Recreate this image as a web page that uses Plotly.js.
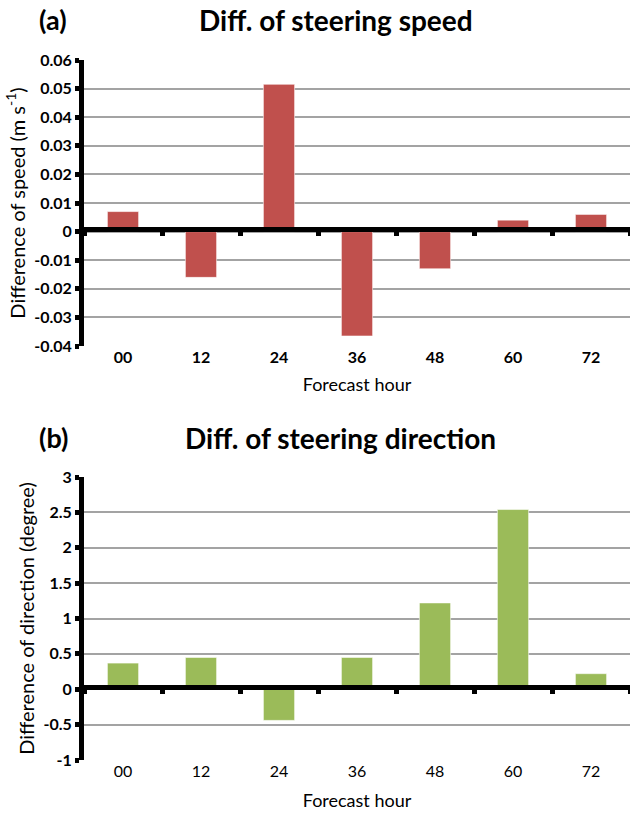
<!DOCTYPE html>
<html>
<head>
<meta charset="utf-8">
<script src="https://cdn.plot.ly/plotly-3.0.1.min.js"></script>
<style>html,body{margin:0;padding:0;background:#fff;}#chart{width:630px;height:814px;}</style>
</head>
<body>
<div id="chart"></div>
<script>
var hours = ["00", "12", "24", "36", "48", "60", "72"];
var speedDiff = [0.007, -0.016, 0.0515, -0.0365, -0.013, 0.004, 0.006];
var directionDiff = [0.37, 0.45, -0.44, 0.45, 1.22, 2.54, 0.22];
var speedTicks = [0.06, 0.05, 0.04, 0.03, 0.02, 0.01, 0, -0.01, -0.02, -0.03, -0.04];
var speedTickText = ["0.06", "0.05", "0.04", "0.03", "0.02", "0.01", "0", "-0.01", "-0.02", "-0.03", "-0.04"];
var dirTicks = [3, 2.5, 2, 1.5, 1, 0.5, 0, -0.5, -1];
var dirTickText = ["3", "2.5", "2", "1.5", "1", "0.5", "0", "-0.5", "-1"];

var FONT = "Lato, 'Open Sans', sans-serif";
var W = 630, H = 814;
var LW = 5;
var xDom = [84 / W, 1];
var yDomA = [1 - 346 / H, 1 - 60 / H];
var yDomB = [1 - 760 / H, 1 - 477 / H];
var rangeA = [-0.04, 0.06];
var rangeB = [-1, 3];
// paper position of the zero value, corrected so the thick line is centred on it
function zeroPos(dom, r) { return dom[0] + (0 - r[0]) / (r[1] - r[0]) * (dom[1] - dom[0]) + (LW / 2) / H; }

function barTrace(y, color, xa, ya, visibleBars) {
  return { type: "bar", x: hours, y: y, xaxis: xa, yaxis: ya,
    marker: { color: color, line: { color: "rgba(255,255,255,0.55)", width: 1 } },
    opacity: visibleBars ? 1 : 0, width: 0.4, hoverinfo: visibleBars ? "x+y" : "skip" };
}
var traces = [
  barTrace(speedDiff, "#C0504D", "x", "y", true),
  barTrace(directionDiff, "#9BBB59", "x2", "y2", true),
  // transparent copies that carry the category axis drawn along the zero line
  barTrace(speedDiff, "#C0504D", "x3", "y", false),
  barTrace(directionDiff, "#9BBB59", "x4", "y2", false)
];

function merge(a, b) { var o = {}; for (var k in a) o[k] = a[k]; for (var k2 in b) o[k2] = b[k2]; return o; }
var yCommon = {
  showline: true, linecolor: "#000", linewidth: LW, ticks: "outside", ticklen: 4, tickwidth: 5, tickcolor: "#000",
  showgrid: true, gridcolor: "#a3a3a3", gridwidth: 2, zeroline: false,
  tickfont: { family: FONT, size: 16, color: "#000", weight: "bold" }
};
var xLabels = {
  domain: xDom, type: "category", categoryarray: hours, range: [-0.5, 6.5],
  showline: false, ticks: "", showgrid: false, zeroline: false
};
var xZero = {
  domain: xDom, type: "category", categoryarray: hours, range: [-0.5, 6.5], anchor: "free",
  showline: true, linecolor: "#000", linewidth: LW, ticks: "outside", tickson: "boundaries",
  ticklen: 4, tickwidth: 5, tickcolor: "#000", showgrid: false, zeroline: false, showticklabels: false
};

var layout = {
  width: W, height: H, margin: { l: 0, r: 0, t: 0, b: 0 },
  paper_bgcolor: "#fff", plot_bgcolor: "#fff", showlegend: false, barmode: "group",
  xaxis: merge(xLabels, { anchor: "y",
    tickfont: { family: FONT, size: 16, color: "#000", weight: "bold" },
    title: { text: "Forecast hour", font: { family: FONT, size: 18, color: "#000" }, standoff: 13 } }),
  yaxis: merge(yCommon, { domain: yDomA, anchor: "x", range: rangeA, tickvals: speedTicks, ticktext: speedTickText,
    title: { text: "Difference of speed (m s<sup>-1</sup>)", font: { family: FONT, size: 20, color: "#000" }, standoff: 5 } }),
  xaxis3: merge(xZero, { overlaying: "x", position: zeroPos(yDomA, rangeA) }),
  xaxis2: merge(xLabels, { anchor: "y2",
    tickfont: { family: FONT, size: 16, color: "#000" },
    title: { text: "Forecast hour", font: { family: FONT, size: 18, color: "#000" }, standoff: 15 } }),
  yaxis2: merge(yCommon, { domain: yDomB, anchor: "x2", range: rangeB, tickvals: dirTicks, ticktext: dirTickText,
    title: { text: "Difference of direction (degree)", font: { family: FONT, size: 20, color: "#000" }, standoff: 5 } }),
  xaxis4: merge(xZero, { overlaying: "x2", position: zeroPos(yDomB, rangeB) }),
  annotations: [
    { text: "(a)", xref: "paper", yref: "paper", x: 37 / W, y: 1 - 20 / H, xanchor: "left", yanchor: "middle", showarrow: false,
      font: { family: FONT, size: 27, color: "#000", weight: "bold" } },
    { text: "Diff. of steering speed", xref: "paper", yref: "paper", x: 336 / W, y: 1 - 20 / H, xanchor: "center", yanchor: "middle", showarrow: false,
      font: { family: FONT, size: 28, color: "#000", weight: "bold" } },
    { text: "(b)", xref: "paper", yref: "paper", x: 37 / W, y: 1 - 438 / H, xanchor: "left", yanchor: "middle", showarrow: false,
      font: { family: FONT, size: 27, color: "#000", weight: "bold" } },
    { text: "Diff. of steering direction", xref: "paper", yref: "paper", x: 340 / W, y: 1 - 438 / H, xanchor: "center", yanchor: "middle", showarrow: false,
      font: { family: FONT, size: 28, color: "#000", weight: "bold" } }
  ]
};

Plotly.newPlot("chart", traces, layout, { displayModeBar: false, staticPlot: true });
</script>
</body>
</html>
